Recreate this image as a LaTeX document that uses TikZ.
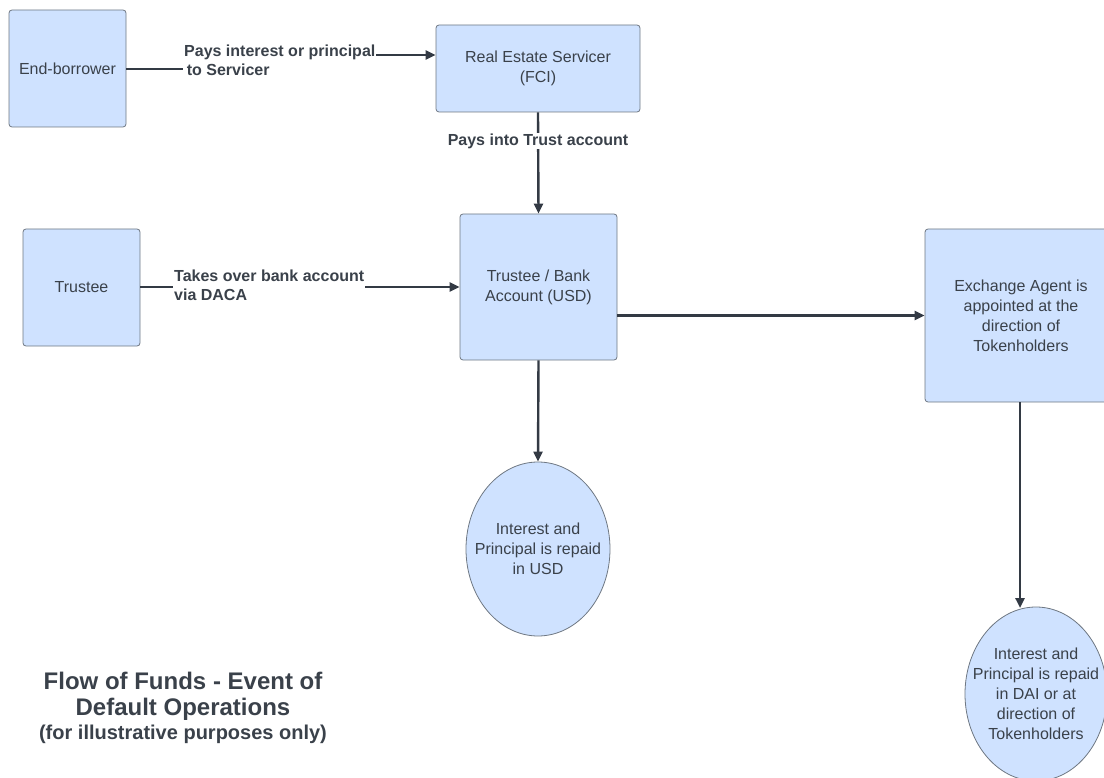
\documentclass[tikz,border=0pt]{standalone}
\usepackage{fontspec}
\setmainfont{Liberation Sans}
\usetikzlibrary{arrows.meta,shapes.geometric}
\definecolor{boxfill}{HTML}{CFE2FF}
\definecolor{boxline}{HTML}{6E7782}
\definecolor{txt}{HTML}{3A414A}
\definecolor{arrc}{HTML}{333A44}
\tikzset{
  box/.style={draw=boxline, line width=0.8pt, fill=boxfill, rounded corners=3pt, text=txt,
    font=\fontsize{16}{20}\selectfont, align=center, inner sep=2pt},
  oval/.style={ellipse, draw=boxline, line width=0.8pt, fill=boxfill, text=txt,
    font=\fontsize{16}{20}\selectfont, align=center, inner xsep=-30pt, inner ysep=-10pt},
  arr/.style={draw=arrc, line width=2.4pt, -{Triangle[length=10pt,width=9pt]}},
  lbl/.style={fill=white, text=txt, font=\bfseries\fontsize{16}{19}\selectfont, inner sep=1pt},
}
\begin{document}
\begin{tikzpicture}[x=1pt,y=-1pt]
\useasboundingbox (0,0) rectangle (1104,778);
% nodes
\node[box, minimum width=117pt, minimum height=117pt] (eb) at (67.5,68.5) {End-borrower};
\node[box, minimum width=204pt, minimum height=87pt] (srv) at (538,68.5) {Real Estate Servicer\\(FCI)};
\node[box, minimum width=117pt, minimum height=117pt] (tr) at (81.5,287.5) {Trustee};
\node[box, minimum width=157pt, minimum height=146pt] (bank) at (538.5,287) {Trustee / Bank\\Account (USD)};
\node[box, minimum width=192pt, minimum height=173pt] (ex) at (1021,315.5) {Exchange Agent is\\appointed at the\\direction of\\Tokenholders};
\node[oval, minimum width=144pt, minimum height=174pt] (e1) at (538,549) {Interest and\\Principal is repaid\\in USD};
\node[oval, minimum width=142pt, minimum height=174pt] (e2) at (1036,694) {Interest and\\Principal is repaid\\in DAI or at\\direction of\\Tokenholders};
% connectors
\draw[arr] (eb.east |- 0,69) -- (280,69) -- (280,55) -- (srv.west |- 0,55);
\node[lbl, align=left, anchor=west] (l1) at (183,60) {Pays interest or principal\\\,to Servicer};
\draw[arr] (srv.south) -- (bank.north);
\node[lbl] (l2) at (538,141) {Pays into Trust account};
\draw[arr] (tr.east |- 0,287) -- (bank.west |- 0,287);
\node[lbl, align=left, anchor=west, inner ysep=3pt] (l3) at (173,285) {Takes over bank account\\via DACA};
\draw[arr] (bank.east |- ex.west) -- (ex.west);
\draw[arr] (bank.south) -- (e1.north);
\draw[arr] (ex.south -| 1020,0) -- (1020,608);
% title
\node[text=txt, align=center, font=\bfseries\fontsize{24}{26}\selectfont] (title) at (183,708)
  {Flow of Funds - Event of\\Default Operations\\[-2pt]{\fontsize{20}{24}\selectfont (for illustrative purposes only)}};
\end{tikzpicture}
\end{document}
